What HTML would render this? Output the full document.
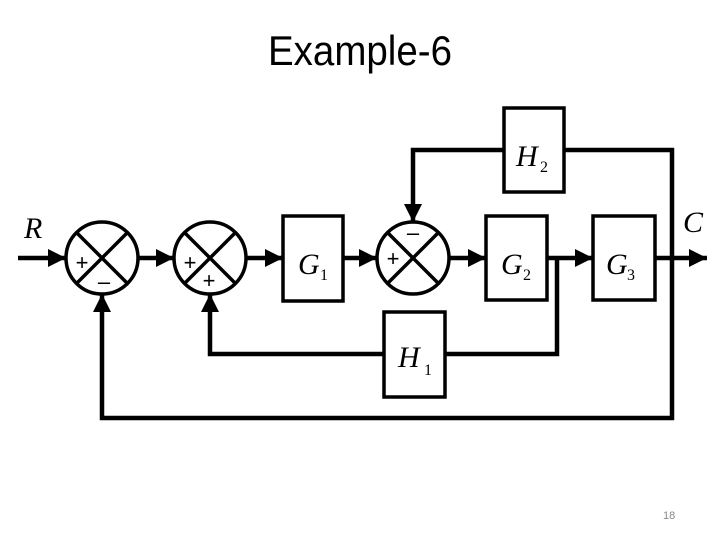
<!DOCTYPE html>
<html><head><meta charset="utf-8"><style>html,body{margin:0;padding:0;background:#fff}</style></head>
<body>
<svg width="720" height="540" viewBox="0 0 720 540" xmlns="http://www.w3.org/2000/svg">
<defs>
<marker id="a" viewBox="0 0 10 10" refX="10" refY="5" markerWidth="5" markerHeight="4" orient="auto" markerUnits="strokeWidth">
<path d="M0,0 L10,5 L0,10 z" fill="#000"/>
</marker>
</defs>
<text x="268" y="65" font-family="Liberation Sans, sans-serif" font-size="42" textLength="184" lengthAdjust="spacingAndGlyphs">Example-6</text>
<g stroke="#000" stroke-width="4.5" fill="none">
<line x1="18" y1="258" x2="66" y2="258" marker-end="url(#a)"/>
<line x1="138" y1="258" x2="174" y2="258" marker-end="url(#a)"/>
<line x1="246" y1="258" x2="283" y2="258" marker-end="url(#a)"/>
<line x1="343" y1="258" x2="377" y2="258" marker-end="url(#a)"/>
<line x1="449" y1="258" x2="486" y2="258" marker-end="url(#a)"/>
<line x1="547" y1="258" x2="593" y2="258" marker-end="url(#a)"/>
<line x1="655" y1="258" x2="707" y2="258" marker-end="url(#a)"/>
<polyline points="672,258 672,150 564,150"/>
<polyline points="504,150 413,150 413,222" marker-end="url(#a)"/>
<polyline points="557,258 557,354 445,354"/>
<polyline points="384,354 210,354 210,294" marker-end="url(#a)"/>
<polyline points="672,258 672,418 102,418 102,294" marker-end="url(#a)"/>
</g>
<g stroke="#000" stroke-width="3.5" fill="#fff">
<circle cx="102" cy="258" r="36"/>
<circle cx="210" cy="258" r="36"/>
<circle cx="413" cy="258" r="36"/>
<rect x="283" y="216" width="60" height="85"/>
<rect x="486" y="216" width="61" height="84"/>
<rect x="593" y="216" width="62" height="84"/>
<rect x="504" y="108" width="60" height="84"/>
<rect x="384" y="312" width="61" height="85"/>
</g>
<g stroke="#000" stroke-width="3.5">
<line x1="77" y1="233" x2="127" y2="283"/><line x1="127" y1="233" x2="77" y2="283"/>
<line x1="185" y1="233" x2="235" y2="283"/><line x1="235" y1="233" x2="185" y2="283"/>
<line x1="388" y1="233" x2="438" y2="283"/><line x1="438" y1="233" x2="388" y2="283"/>
</g>
<g font-family="Liberation Sans, sans-serif" font-size="22" text-anchor="middle">
<text x="82" y="270">+</text><text x="104" y="289">–</text>
<text x="190" y="270">+</text><text x="209" y="288">+</text>
<text x="393" y="266">+</text><text x="413" y="240">–</text>
</g>
<g font-family="Liberation Serif, serif" font-style="italic" font-size="30">
<text x="24" y="238">R</text>
<text x="683" y="232">C</text>
<text x="298" y="274">G</text>
<text x="501" y="274">G</text>
<text x="606" y="274">G</text>
<text x="516" y="166">H</text>
<text x="398" y="367">H</text>
</g>
<g font-family="Liberation Serif, serif" font-size="16">
<text x="320" y="280">1</text>
<text x="523" y="280">2</text>
<text x="627" y="280">3</text>
<text x="540" y="172">2</text>
<text x="424" y="375">1</text>
</g>
<text x="663" y="519" font-family="Liberation Sans, sans-serif" font-size="11" fill="#888">18</text>
</svg>
</body></html>
